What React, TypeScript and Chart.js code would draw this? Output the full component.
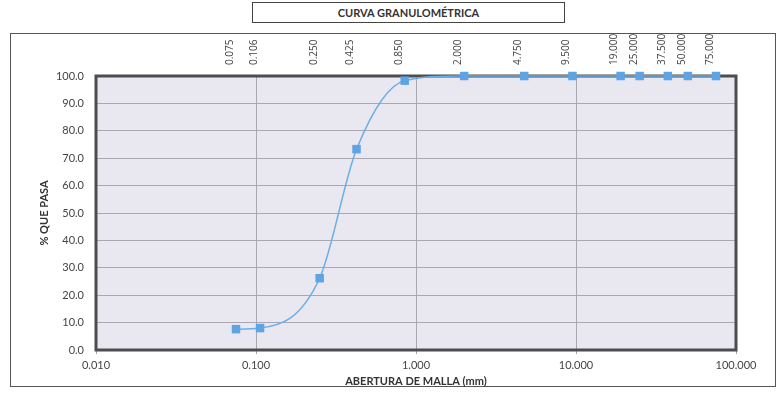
import React, { useEffect, useRef } from "react";
import { Chart, registerables } from "chart.js";

Chart.register(...registerables);

// Sieve openings (mm) and cumulative % passing
const sieveSizes = [0.075, 0.106, 0.25, 0.425, 0.85, 2, 4.75, 9.5, 19, 25, 37.5, 50, 75];
const percentPassing = [7.6, 8.0, 26.2, 73.3, 98.3, 100, 100, 100, 100, 100, 100, 100, 100];
const sieveLabels = ["0.075", "0.106", "0.250", "0.425", "0.850", "2.000", "4.750", "9.500", "19.000", "25.000", "37.500", "50.000", "75.000"];
const bottomTicks = [0.01, 0.1, 1, 10, 100];
const bottomLabels = ["0.010", "0.100", "1.000", "10.000", "100.000"];
const yTickValues = [0, 10, 20, 30, 40, 50, 60, 70, 80, 90, 100];

const chartTitle = "CURVA GRANULOMÉTRICA";
const xTitle = "ABERTURA DE MALLA (mm)";
const yTitle = "% QUE PASA";

const FONT = "Lato, 'Open Sans', sans-serif";

const plotDecor = {
  id: "plotDecor",
  beforeDraw(chart: any) {
    const { ctx, chartArea: a } = chart;
    ctx.save();
    ctx.fillStyle = "#e9e7ef";
    ctx.fillRect(a.left, a.top, a.right - a.left, a.bottom - a.top);
    ctx.restore();
  },
  beforeDatasetsDraw(chart: any) {
    const { ctx, chartArea: a } = chart;
    ctx.save();
    ctx.strokeStyle = "#4d4d4f";
    ctx.lineWidth = 3;
    ctx.strokeRect(a.left, a.top, a.right - a.left, a.bottom - a.top);
    ctx.restore();
  },
};

export default function App() {
  const ref = useRef<HTMLCanvasElement | null>(null);

  useEffect(() => {
    if (!ref.current) return;
    const chart = new Chart(ref.current, {
      type: "line",
      data: {
        datasets: [
          {
            data: sieveSizes.map((x, i) => ({ x, y: percentPassing[i] })),
            borderColor: "#6aaee8",
            backgroundColor: "#5ea3e3",
            borderWidth: 1.5,
            pointStyle: "rect",
            pointRadius: 6,
            pointBorderWidth: 0,
            cubicInterpolationMode: "monotone",
            clip: false,
            xAxisID: "x",
            yAxisID: "y",
          } as any,
        ],
      },
      options: {
        responsive: false,
        animation: false,
        devicePixelRatio: 1,
        layout: { padding: { left: 0, right: 44, top: 0, bottom: 0 } },
        plugins: { legend: { display: false }, tooltip: { enabled: false }, title: { display: false } },
        scales: {
          x: {
            type: "logarithmic",
            position: "bottom",
            min: 0.01,
            max: 100,
            afterBuildTicks: (s: any) => {
              s.ticks = bottomTicks.map((v) => ({ value: v }));
            },
            afterFit: (s: any) => {
              s.height = 44;
            },
            ticks: {
              autoSkip: false,
              maxRotation: 0,
              color: "#444",
              font: { family: FONT, size: 11 },
              padding: 5,
              callback: (_v: any, i: number) => bottomLabels[i],
            },
            grid: { color: "#a9a7b1", lineWidth: 1, tickLength: 4, drawTicks: true },
            border: { display: false },
            title: {
              display: true,
              text: xTitle,
              color: "#333",
              font: { family: FONT, size: 11, weight: "bold" },
              padding: { top: 0, bottom: 6 },
            },
          },
          x2: {
            type: "logarithmic",
            position: "top",
            min: 0.01,
            max: 100,
            afterBuildTicks: (s: any) => {
              s.ticks = sieveSizes.map((v) => ({ value: v }));
            },
            afterFit: (s: any) => {
              s.height = 76;
            },
            ticks: {
              autoSkip: false,
              minRotation: 90,
              maxRotation: 90,
              color: "#444",
              font: { family: "'Open Sans', sans-serif", size: 10 },
              padding: 11,
              labelOffset: 6,
              callback: (_v: any, i: number) => sieveLabels[i],
            },
            grid: { display: false, drawTicks: false },
            border: { display: false },
          },
          y: {
            type: "linear",
            min: 0,
            max: 100,
            afterBuildTicks: (s: any) => {
              s.ticks = yTickValues.map((v) => ({ value: v }));
            },
            afterFit: (s: any) => {
              s.width = 96;
            },
            ticks: {
              color: "#444",
              font: { family: FONT, size: 11 },
              padding: 12,
              callback: (v: any) => Number(v).toFixed(1),
            },
            grid: { color: "#a9a7b1", lineWidth: 1, drawTicks: false },
            border: { display: false },
            title: {
              display: true,
              text: yTitle,
              color: "#333",
              font: { family: FONT, size: 11, weight: "bold" },
              padding: { top: 38, bottom: 0 },
            },
          },
        },
      },
      plugins: [plotDecor],
    });
    return () => chart.destroy();
  }, []);

  return (
    <div style={{ position: "fixed", left: 0, top: 0, width: 780, height: 394, background: "#fff" }}>
      <div
        style={{
          position: "absolute",
          left: 10,
          top: 33,
          width: 766,
          height: 354,
          border: "1px solid #555",
          boxSizing: "border-box",
        }}
      />
      <canvas ref={ref} width={780} height={394} style={{ position: "absolute", left: 0, top: 0, width: 780, height: 394 }} />
      <div
        style={{
          position: "absolute",
          left: 252,
          top: 2,
          width: 313,
          height: 21,
          border: "1px solid #444",
          boxSizing: "border-box",
          background: "#fff",
          fontFamily: FONT,
          fontWeight: "bold",
          fontSize: 11,
          color: "#333",
          display: "flex",
          alignItems: "center",
          justifyContent: "center",
        }}
      >
        {chartTitle}
      </div>
    </div>
  );
}
